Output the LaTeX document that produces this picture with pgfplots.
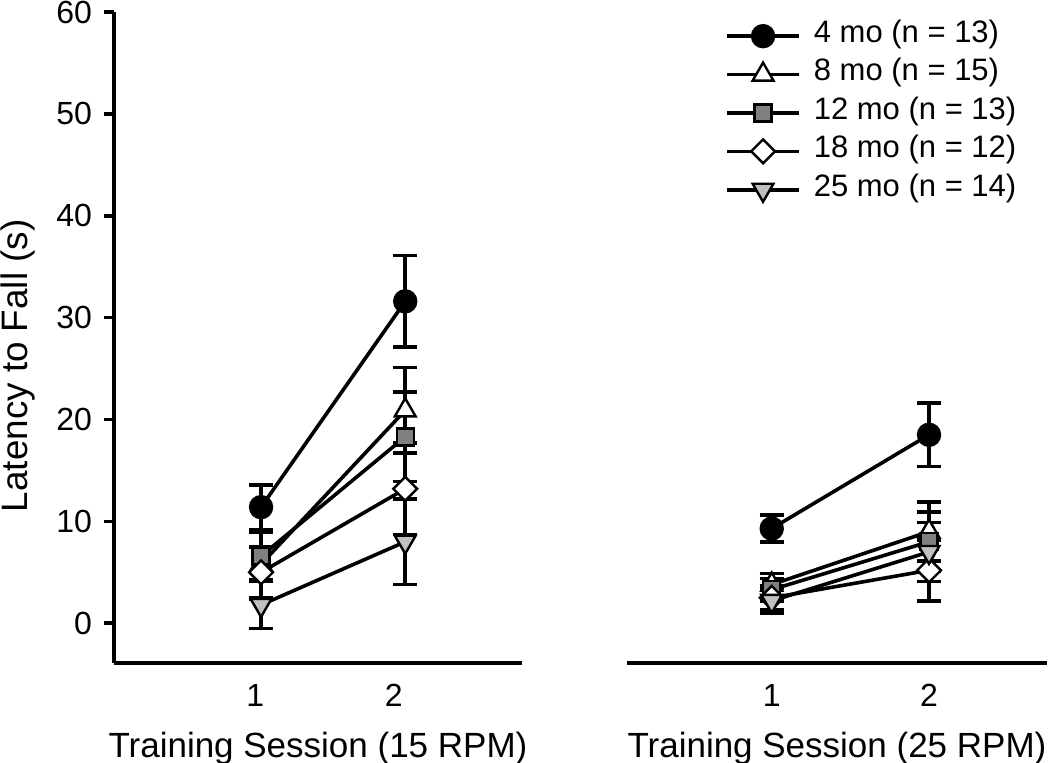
\documentclass[border=0pt]{standalone}
\usepackage{pgfplots}
\pgfplotsset{compat=1.18}
\usepackage{fontspec}
\setmainfont{Liberation Sans}

\definecolor{midgray}{RGB}{128,128,128}
\definecolor{palegray}{RGB}{192,192,192}

\pgfplotsset{
  panel/.style={
    scale only axis,
    height=325.5pt,
    ymin=-3.9, ymax=60,
    axis x line*=bottom,
    axis line style={line width=1.8pt, black},
    xtick style={draw=none},
    xticklabel style={anchor=base, yshift=-16.5pt},
    yticklabel style={xshift=-2.5pt},
    ytick={0,10,...,60},
    tick align=outside,
    major tick length=5pt,
    ytick style={line width=1.8pt, black},
    ticklabel style={font=\fontsize{16}{19}\selectfont},
    /pgf/number format/assume math mode=true,
    label style={font=\fontsize{17.5}{21}\selectfont},
    xlabel style={at={(axis description cs:0.5,0)}, anchor=base, yshift=-47pt},
    error bars/error bar style={line width=1.8pt, black},
    error bars/error mark options={rotate=90, mark size=6pt, line width=1.8pt, black},
    clip=false,
  },
  s4/.style={black, line width=1.8pt, mark=*, mark size=5.5pt,
    mark options={solid, line width=1.2pt, draw=black, fill=black}},
  s8/.style={black, line width=1.8pt, mark=triangle*, mark size=6pt,
    mark options={solid, line width=1.2pt, draw=black, fill=white}},
  s12/.style={black, line width=1.8pt, mark=square*, mark size=4.25pt,
    mark options={solid, line width=1.2pt, draw=black, fill=midgray}},
  s18/.style={black, line width=1.8pt, mark=square*, mark size=4.2pt,
    mark options={solid, line width=1.2pt, draw=black, fill=white, rotate=45}},
  s25/.style={black, line width=1.8pt, mark=triangle*, mark size=6pt,
    mark options={solid, line width=1.2pt, draw=black, fill=palegray, rotate=180}},
}

\begin{document}
\begin{tikzpicture}
  \path[use as bounding box] (-57pt,-49.5pt) rectangle (468pt,331.5pt);

  % 15 RPM
  \begin{axis}[
    panel,
    width=204pt,
    xmin=-0.02, xmax=2.81,
    axis y line*=left,
    xtick={0.96,1.92}, xticklabels={1,2},
    xlabel={Training Session (15 RPM)},
    ylabel={Latency to Fall (s)},
    ylabel style={at={(axis description cs:0,0.478)}, anchor=center, yshift=48pt, xshift=-7pt,
      font=\fontsize{18.4}{22}\selectfont},
  ]
    \addplot[s4, error bars/.cd, y dir=both, y explicit]
      coordinates {(1,11.4) +- (0,2.2) (2,31.6) +- (0,4.5)};
    \addplot[s8, error bars/.cd, y dir=both, y explicit]
      coordinates {(1,5.8) +- (0,3.4) (2,20.9) +- (0,4.2)};
    \addplot[s12, error bars/.cd, y dir=both, y explicit]
      coordinates {(1,6.6) +- (0,2.3) (2,18.3) +- (0,4.4)};
    \addplot[s18, error bars/.cd, y dir=both, y explicit]
      coordinates {(1,5.0) +- (0,2.5) (2,13.2) +- (0,4.5)};
    \addplot[s25, error bars/.cd, y dir=both, y explicit]
      coordinates {(1,1.8) +- (0,2.3) (2,8.0) +- (0,4.2)};
  \end{axis}

  % 25 RPM
  \begin{axis}[
    panel,
    at={(256.5pt,0pt)}, anchor=south west,
    width=210pt,
    xmin=0.08, xmax=2.75,
    axis y line=none,
    xtick={1,2},
    xlabel={Training Session (25 RPM)},
    legend cell align=left,
    legend style={draw=none, fill=none, inner sep=0pt,
      at={(axis description cs:0.233,0.993)}, anchor=north west,
      font=\fontsize{15.5}{18}\selectfont,
      row sep=0pt,
      nodes={inner sep=0pt, text height=12.8pt, text depth=6.4pt}},
    legend image code/.code={
      \draw[mark repeat=2, mark phase=2] plot coordinates {(0pt,0pt) (18pt,0pt) (36pt,0pt)};
      \path (42.5pt,0pt);},
  ]
    \addplot[s4, error bars/.cd, y dir=both, y explicit]
      coordinates {(1,9.3) +- (0,1.35) (2,18.5) +- (0,3.1)};
    \addplot[s8, error bars/.cd, y dir=both, y explicit]
      coordinates {(1,3.8) +- (0,1.1) (2,9.0) +- (0,2.9)};
    \addplot[s12, error bars/.cd, y dir=both, y explicit]
      coordinates {(1,3.3) +- (0,1.1) (2,8.0) +- (0,2.9)};
    \addplot[s18, error bars/.cd, y dir=both, y explicit]
      coordinates {(1,2.5) +- (0,1.2) (2,5.2) +- (0,3.0)};
    \addplot[s25, error bars/.cd, y dir=both, y explicit]
      coordinates {(1,2.2) +- (0,1.2) (2,7.0) +- (0,2.9)};
    \legend{4 mo (n = 13), 8 mo (n = 15), 12 mo (n = 13), 18 mo (n = 12), 25 mo (n = 14)}
  \end{axis}
\end{tikzpicture}
\end{document}
